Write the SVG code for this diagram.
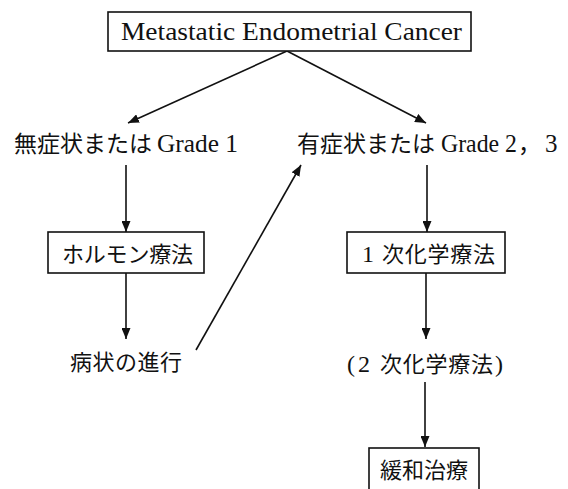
<svg xmlns="http://www.w3.org/2000/svg" width="568" height="489" viewBox="0 0 568 489">
<defs>
<style>
.bg{fill:#ffffff}
.box{fill:#ffffff;stroke:#111;stroke-width:1.6}
.ln{stroke:#111;stroke-width:1.6;fill:none}
.jp{font-family:"Noto Sans CJK JP","Noto Sans CJK SC",sans-serif;font-size:22px;fill:#111}
.lat{font-family:"Liberation Serif","DejaVu Serif",serif;font-size:24px;fill:#111}
</style>
<marker id="ah" markerUnits="userSpaceOnUse" markerWidth="11" markerHeight="9" refX="11" refY="4.5" orient="auto">
<path d="M0,0 L11,4.5 L0,9 z" fill="#111"/>
</marker>
</defs>
<rect class="bg" x="0" y="0" width="568" height="489"/>
<g id="connectors">
<line class="ln" x1="287" y1="51" x2="128" y2="123" marker-end="url(#ah)"/>
<line class="ln" x1="287" y1="51" x2="426" y2="123" marker-end="url(#ah)"/>
<line class="ln" x1="126" y1="165" x2="126" y2="232" marker-end="url(#ah)"/>
<line class="ln" x1="126" y1="273" x2="126" y2="339" marker-end="url(#ah)"/>
<line class="ln" x1="196" y1="350" x2="301" y2="165" marker-end="url(#ah)"/>
<line class="ln" x1="427" y1="165" x2="427" y2="232" marker-end="url(#ah)"/>
<line class="ln" x1="426" y1="273" x2="426" y2="339" marker-end="url(#ah)"/>
<line class="ln" x1="425" y1="382" x2="425" y2="447" marker-end="url(#ah)"/>
</g>
<g id="n-top">
<rect class="box" x="108" y="12" width="363" height="39"/>
<text class="lat" x="121" y="40" style="font-size:25px" textLength="341" lengthAdjust="spacingAndGlyphs">Metastatic Endometrial Cancer</text>
</g>
<g id="n-asym">
<text class="jp" x="14" y="152" style="font-size:23px">無症状または</text>
<text class="lat" x="157" y="152" style="font-size:25px" textLength="81" lengthAdjust="spacingAndGlyphs">Grade 1</text>
</g>
<g id="n-sym">
<text class="jp" x="297" y="152" style="font-size:23px">有症状または</text>
<text class="lat" x="441" y="152" style="font-size:25px" textLength="76" lengthAdjust="spacingAndGlyphs">Grade 2</text>
<text class="jp" x="518" y="152" style="font-size:23px">，</text>
<text class="lat" x="545" y="152" style="font-size:25px">3</text>
</g>
<g id="n-hormone">
<rect class="box" x="48" y="232" width="156" height="41"/>
<text class="jp" x="62" y="262" textLength="131" lengthAdjust="spacing">ホルモン療法</text>
</g>
<g id="n-chemo1">
<rect class="box" x="347" y="232" width="158" height="41"/>
<text class="lat" x="362" y="262">1</text>
<text class="jp" x="382" y="262" textLength="113" lengthAdjust="spacing">次化学療法</text>
</g>
<g id="n-progress">
<text class="jp" x="70" y="370" textLength="112" lengthAdjust="spacing">病状の進行</text>
</g>
<g id="n-chemo2">
<text class="lat" x="347" y="372">(</text>
<text class="lat" x="358" y="372">2</text>
<text class="jp" x="380" y="372" textLength="113" lengthAdjust="spacing">次化学療法</text>
<text class="lat" x="495" y="372">)</text>
</g>
<g id="n-palliative">
<rect class="box" x="369" y="448" width="110" height="60"/>
<text class="jp" x="380" y="478" textLength="88" lengthAdjust="spacing">緩和治療</text>
</g>
</svg>
